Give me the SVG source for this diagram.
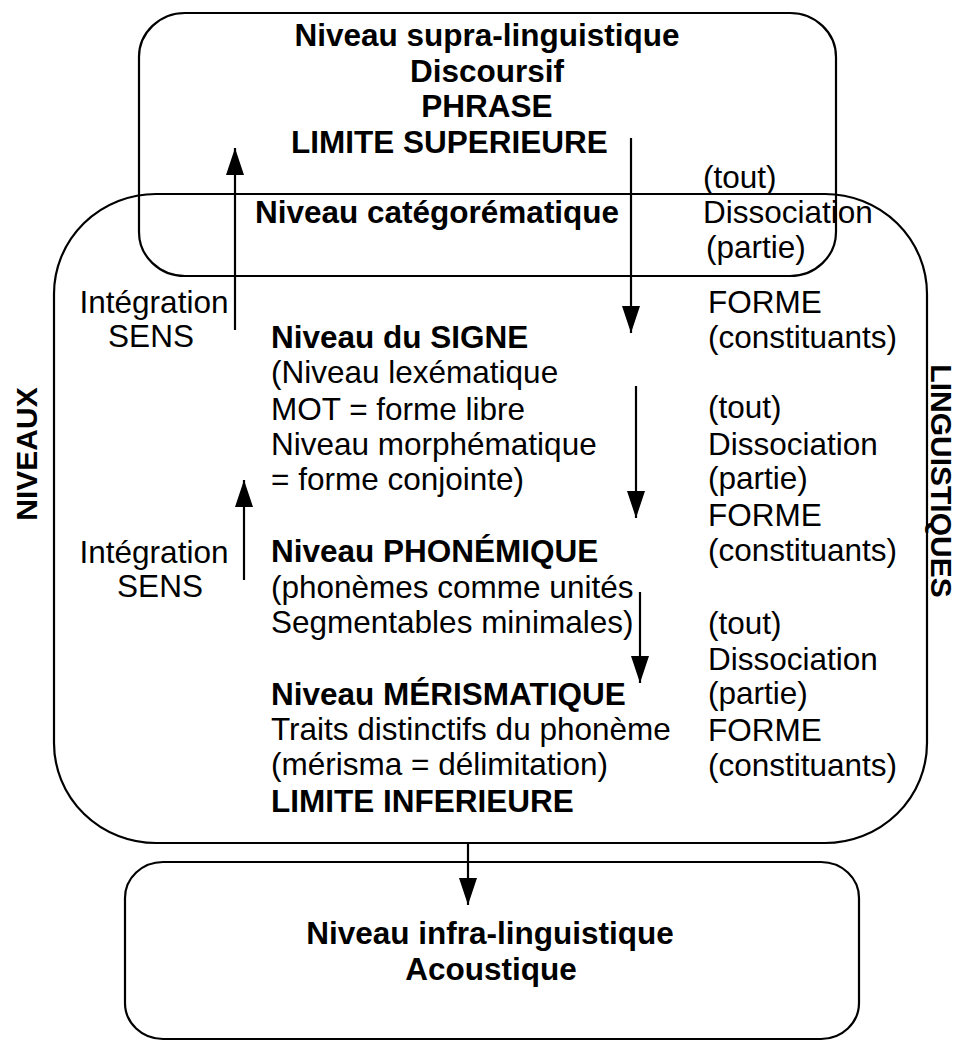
<svg xmlns="http://www.w3.org/2000/svg" width="959" height="1041" viewBox="0 0 959 1041">
<style>
.box{fill:none;stroke:#000;stroke-width:2.2}
text{font-family:"Liberation Sans",Arial,sans-serif;font-size:31.5px;fill:#000}
.b{font-weight:bold}
.c{text-anchor:middle}
.ln{stroke:#000;stroke-width:2.2;fill:none}
</style>
<defs>
<marker id="ah" markerUnits="userSpaceOnUse" markerWidth="28" markerHeight="18" refX="27" refY="9" orient="auto">
<path d="M0,0 L27,9 L0,18 z" fill="#000"/>
</marker>
</defs>
<rect width="959" height="1041" fill="#fff"/>

<g id="supra">
<rect class="box" x="139" y="13" width="697" height="263" rx="46" ry="44"/>
<text class="b c" x="487" y="46">Niveau supra-linguistique</text>
<text class="b c" x="487" y="82">Discoursif</text>
<text class="b c" x="487" y="117">PHRASE</text>
<text class="b" x="291" y="153">LIMITE SUPERIEURE</text>
</g>

<g id="linguistique">
<rect class="box" x="54" y="194" width="873" height="649" rx="102" ry="100"/>
<text class="b" x="255" y="223">Niveau catégorématique</text>
<text x="703" y="188">(tout)</text>
<text x="703" y="223">Dissociation</text>
<text x="706" y="258">(partie)</text>
<text x="708" y="313">FORME</text>
<text x="708" y="348">(constituants)</text>

<text class="c" x="154" y="313">Intégration</text>
<text class="c" x="151" y="347">SENS</text>

<text class="b" x="271" y="348">Niveau du SIGNE</text>
<text x="271" y="383">(Niveau lexématique</text>
<text x="271" y="420">MOT = forme libre</text>
<text x="271" y="455">Niveau morphématique</text>
<text x="271" y="490">= forme conjointe)</text>

<text x="708" y="418">(tout)</text>
<text x="708" y="455">Dissociation</text>
<text x="708" y="489">(partie)</text>
<text x="708" y="526">FORME</text>
<text x="708" y="561">(constituants)</text>

<text class="c" x="154" y="563">Intégration</text>
<text class="c" x="160" y="597">SENS</text>

<text class="b" x="271" y="562">Niveau PHONÉMIQUE</text>
<text x="271" y="598">(phonèmes comme unités</text>
<text x="271" y="633">Segmentables minimales)</text>
<text class="b" x="271" y="705">Niveau MÉRISMATIQUE</text>
<text x="271" y="740">Traits distinctifs du phonème</text>
<text x="271" y="775">(mérisma = délimitation)</text>
<text class="b" x="271" y="812">LIMITE INFERIEURE</text>

<text x="708" y="634">(tout)</text>
<text x="708" y="670">Dissociation</text>
<text x="708" y="704">(partie)</text>
<text x="708" y="741">FORME</text>
<text x="708" y="776">(constituants)</text>
</g>

<g id="infra">
<rect class="box" x="125" y="862" width="734" height="177" rx="38" ry="36"/>
<text class="b c" x="490" y="944">Niveau infra-linguistique</text>
<text class="b c" x="491" y="980">Acoustique</text>
</g>

<g id="side-labels">
<text class="b c" transform="translate(37,454) rotate(-90)" style="font-size:30px">NIVEAUX</text>
<text class="b c" transform="translate(931,481) rotate(90)" style="font-size:30px">LINGUISTIQUES</text>
</g>

<g id="connectors">
<line class="ln" x1="235" y1="330" x2="235" y2="148" marker-end="url(#ah)"/>
<line class="ln" x1="244" y1="580" x2="244" y2="480" marker-end="url(#ah)"/>
<line class="ln" x1="631" y1="138" x2="631" y2="333" marker-end="url(#ah)"/>
<line class="ln" x1="636" y1="386" x2="636" y2="518" marker-end="url(#ah)"/>
<line class="ln" x1="640" y1="592" x2="640" y2="683" marker-end="url(#ah)"/>
<line class="ln" x1="468" y1="843" x2="468" y2="905" marker-end="url(#ah)"/>
</g>
</svg>
